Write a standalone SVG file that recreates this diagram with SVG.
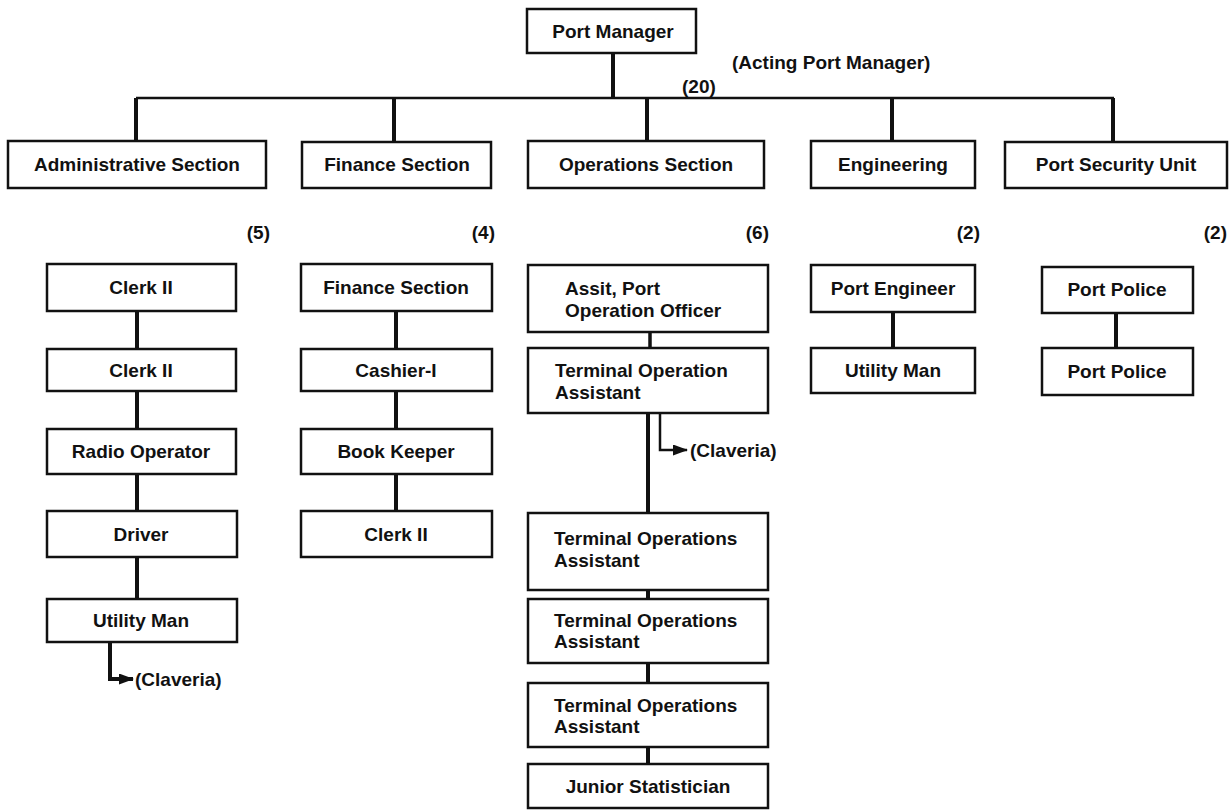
<svg xmlns="http://www.w3.org/2000/svg" width="1229" height="810" viewBox="0 0 1229 810">
<style>
.box{fill:#fff;stroke:#111;stroke-width:2.5}
.t{font-family:"Liberation Sans",Arial,sans-serif;font-weight:bold;font-size:19px;fill:#111}
.c{text-anchor:middle}
.e{text-anchor:end}
.thick{stroke:#111;stroke-width:4;fill:none}
.mid{stroke:#111;stroke-width:3.5;fill:none}
.thin{stroke:#111;stroke-width:2.5;fill:none}
</style>
<defs>
<marker id="arr" markerWidth="15" markerHeight="11" refX="14" refY="5.5" orient="auto" markerUnits="userSpaceOnUse">
<path d="M0,0 L15,5.5 L0,11 Z" fill="#111"/>
</marker>
</defs>
<rect width="1229" height="810" fill="#fff"/>
<g id="connectors">
<line class="thick" x1="613" y1="53" x2="613" y2="99"/>
<line class="thin" x1="136" y1="98" x2="1114" y2="98"/>
<line class="thick" x1="136" y1="98" x2="136" y2="141"/>
<line class="thick" x1="394" y1="98" x2="394" y2="141"/>
<line class="thick" x1="647" y1="98" x2="647" y2="141"/>
<line class="thick" x1="892" y1="98" x2="892" y2="141"/>
<line class="thick" x1="1113" y1="98" x2="1113" y2="141"/>
<line class="thick" x1="137" y1="311" x2="137" y2="599"/>
<path class="thick" d="M110,642 V679 H133" marker-end="url(#arr)"/>
<line class="thick" x1="396" y1="311" x2="396" y2="511"/>
<line class="mid" x1="650" y1="332" x2="650" y2="348"/>
<line class="thick" x1="648" y1="413" x2="648" y2="764"/>
<path class="thin" d="M660,413 V450 H687" marker-end="url(#arr)"/>
<line class="thick" x1="893" y1="312" x2="893" y2="348"/>
<line class="thick" x1="1116" y1="313" x2="1116" y2="348"/>
</g>
<g id="port-manager"><rect class="box" x="527" y="9" width="169" height="44"/><text class="t c" x="613" y="38">Port Manager</text></g>
<g id="acting-label"><text class="t" x="732" y="69">(Acting Port Manager)</text><text class="t" x="682" y="93">(20)</text></g>
<g id="admin-section"><rect class="box" x="8" y="141" width="258" height="47"/><text class="t c" x="137" y="171">Administrative Section</text><text class="t e" x="270" y="239">(5)</text></g>
<g id="finance-section"><rect class="box" x="302" y="142" width="189" height="46"/><text class="t c" x="397" y="171">Finance Section</text><text class="t e" x="495" y="239">(4)</text></g>
<g id="operations-section"><rect class="box" x="528" y="141" width="236" height="47"/><text class="t c" x="646" y="171">Operations Section</text><text class="t e" x="769" y="239">(6)</text></g>
<g id="engineering"><rect class="box" x="811" y="141" width="164" height="47"/><text class="t c" x="893" y="171">Engineering</text><text class="t e" x="980" y="239">(2)</text></g>
<g id="port-security-unit"><rect class="box" x="1005" y="142" width="222" height="46"/><text class="t c" x="1116" y="171">Port Security Unit</text><text class="t e" x="1227" y="239">(2)</text></g>
<g id="admin-clerk1"><rect class="box" x="47" y="264" width="189" height="47"/><text class="t c" x="141" y="294">Clerk II</text></g>
<g id="admin-clerk2"><rect class="box" x="47" y="349" width="189" height="42"/><text class="t c" x="141" y="377">Clerk II</text></g>
<g id="admin-radio"><rect class="box" x="47" y="429" width="189" height="45"/><text class="t c" x="141" y="458">Radio Operator</text></g>
<g id="admin-driver"><rect class="box" x="47" y="511" width="190" height="46"/><text class="t c" x="141" y="541">Driver</text></g>
<g id="admin-utility"><rect class="box" x="47" y="599" width="190" height="43"/><text class="t c" x="141" y="627">Utility Man</text></g>
<g id="admin-claveria"><text class="t" x="135" y="686">(Claveria)</text></g>
<g id="fin-section"><rect class="box" x="301" y="264" width="191" height="47"/><text class="t c" x="396" y="294">Finance Section</text></g>
<g id="fin-cashier"><rect class="box" x="301" y="349" width="191" height="42"/><text class="t c" x="396" y="377">Cashier-I</text></g>
<g id="fin-bookkeeper"><rect class="box" x="301" y="429" width="191" height="45"/><text class="t c" x="396" y="458">Book Keeper</text></g>
<g id="fin-clerk"><rect class="box" x="301" y="511" width="191" height="46"/><text class="t c" x="396" y="541">Clerk II</text></g>
<g id="ops-assit"><rect class="box" x="528" y="265" width="240" height="67"/><text class="t" x="565" y="295">Assit, Port</text><text class="t" x="565" y="317">Operation Officer</text></g>
<g id="ops-toa"><rect class="box" x="528" y="348" width="240" height="65"/><text class="t" x="555" y="377">Terminal Operation</text><text class="t" x="555" y="399">Assistant</text></g>
<g id="ops-claveria"><text class="t" x="690" y="457">(Claveria)</text></g>
<g id="ops-toa1"><rect class="box" x="528" y="513" width="240" height="77"/><text class="t" x="554" y="545">Terminal Operations</text><text class="t" x="554" y="567">Assistant</text></g>
<g id="ops-toa2"><rect class="box" x="528" y="599" width="240" height="64"/><text class="t" x="554" y="627">Terminal Operations</text><text class="t" x="554" y="648">Assistant</text></g>
<g id="ops-toa3"><rect class="box" x="528" y="683" width="240" height="64"/><text class="t" x="554" y="712">Terminal Operations</text><text class="t" x="554" y="733">Assistant</text></g>
<g id="ops-junior"><rect class="box" x="528" y="764" width="240" height="44"/><text class="t c" x="648" y="793">Junior Statistician</text></g>
<g id="eng-port-engineer"><rect class="box" x="811" y="265" width="164" height="47"/><text class="t c" x="893" y="295">Port Engineer</text></g>
<g id="eng-utility"><rect class="box" x="811" y="348" width="164" height="45"/><text class="t c" x="893" y="377">Utility Man</text></g>
<g id="psu-police1"><rect class="box" x="1042" y="267" width="151" height="46"/><text class="t c" x="1117" y="296">Port Police</text></g>
<g id="psu-police2"><rect class="box" x="1042" y="348" width="151" height="47"/><text class="t c" x="1117" y="378">Port Police</text></g>
</svg>
